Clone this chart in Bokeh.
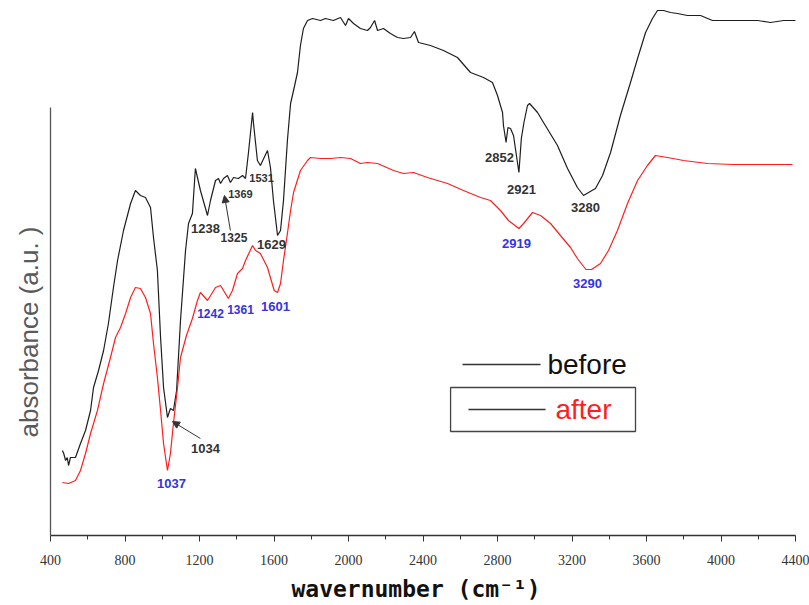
from bokeh.plotting import figure
from bokeh.models import Range1d, Arrow, NormalHead, FixedTicker, Title
from bokeh.core.properties import value
from bokeh.embed import file_html
from bokeh.resources import INLINE

# ---- data (wavenumber cm^-1, absorbance a.u.) ----
before_wn = [464, 471, 481, 490, 497, 507, 534, 561, 588, 615, 631, 658, 685, 711, 738, 760,
             792, 830, 856, 883, 910, 937, 953, 974, 991, 1007, 1028, 1044, 1060, 1077, 1098,
             1125, 1141, 1162, 1178, 1205, 1243, 1259, 1286, 1302, 1313, 1329, 1350, 1366,
             1383, 1409, 1431, 1447, 1463, 1485, 1490, 1511, 1527, 1565, 1581, 1597, 1619,
             1635, 1651, 1672, 1689, 1705, 1726, 1742, 1758, 1780, 1807, 1850, 1876, 1919,
             1957, 1984, 2000, 2027, 2064, 2102, 2118, 2140, 2156, 2188, 2225, 2263, 2295,
             2333, 2354, 2376, 2440, 2510, 2585, 2655, 2725, 2773, 2800, 2827, 2832, 2846,
             2856, 2870, 2886, 2915, 2928, 2942, 2961, 2972, 3015, 3047, 3122, 3176, 3229,
             3262, 3289, 3326, 3364, 3407, 3460, 3514, 3552, 3595, 3632, 3659, 3691, 3729,
             3766, 3820, 3890, 3954, 4051, 4196, 4266, 4336, 4454]
before_abs = [0.85, 0.82, 0.75, 0.78, 0.70, 0.78, 0.78, 0.92, 1.05, 1.25, 1.48, 1.65, 1.85,
              2.12, 2.48, 2.75, 3.05, 3.32, 3.45, 3.40, 3.38, 3.28, 2.98, 2.65, 1.98, 1.48,
              1.18, 1.27, 1.25, 1.45, 2.15, 2.85, 3.12, 3.22, 3.67, 3.45, 3.20, 3.35, 3.55,
              3.57, 3.52, 3.57, 3.60, 3.53, 3.58, 3.57, 3.60, 3.57, 3.83, 4.23, 4.12, 3.75,
              3.70, 3.85, 3.68, 3.35, 3.00, 3.05, 3.35, 3.95, 4.32, 4.45, 4.63, 4.90, 5.07,
              5.15, 5.17, 5.15, 5.17, 5.15, 5.18, 5.10, 5.17, 5.12, 5.07, 5.05, 5.08, 5.15,
              5.05, 5.07, 5.02, 4.98, 4.97, 4.98, 5.04, 4.93, 4.90, 4.85, 4.78, 4.63, 4.58,
              4.53, 4.40, 4.23, 4.10, 3.93, 4.08, 4.07, 4.00, 3.63, 3.97, 4.13, 4.30, 4.32,
              4.23, 4.13, 3.90, 3.67, 3.48, 3.40, 3.43, 3.47, 3.60, 3.83, 4.20, 4.53, 4.77,
              5.03, 5.17, 5.25, 5.25, 5.23, 5.22, 5.20, 5.20, 5.15, 5.15, 5.15, 5.13, 5.15,
              5.15]

after_wn = [464, 497, 534, 561, 588, 615, 652, 685, 722, 749, 776, 803, 830, 856, 883, 910,
            937, 953, 974, 991, 1007, 1028, 1044, 1060, 1082, 1098, 1130, 1162, 1189, 1205,
            1243, 1286, 1313, 1355, 1377, 1404, 1431, 1447, 1485, 1501, 1527, 1565, 1601,
            1619, 1635, 1651, 1672, 1689, 1705, 1742, 1780, 1796, 1850, 1904, 1957, 2011,
            2064, 2102, 2156, 2242, 2295, 2349, 2424, 2532, 2617, 2709, 2762, 2816, 2859,
            2915, 2940, 2988, 3031, 3085, 3138, 3192, 3229, 3275, 3305, 3353, 3396, 3444,
            3498, 3552, 3605, 3648, 3713, 3799, 3927, 4067, 4212, 4384]
after_abs = [0.53, 0.52, 0.55, 0.65, 0.82, 1.02, 1.25, 1.52, 1.78, 1.98, 2.08, 2.22, 2.38,
             2.48, 2.47, 2.38, 2.22, 1.92, 1.58, 1.25, 0.92, 0.65, 0.82, 1.12, 1.48, 1.78,
             2.00, 2.17, 2.35, 2.43, 2.35, 2.48, 2.50, 2.37, 2.45, 2.62, 2.67, 2.75, 2.90,
             2.85, 2.82, 2.68, 2.45, 2.43, 2.52, 2.75, 3.02, 3.25, 3.43, 3.65, 3.75, 3.78,
             3.77, 3.77, 3.78, 3.77, 3.72, 3.73, 3.72, 3.65, 3.62, 3.63, 3.58, 3.52, 3.45,
             3.38, 3.35, 3.25, 3.15, 3.07, 3.12, 3.23, 3.20, 3.12, 3.00, 2.88, 2.77, 2.66,
             2.66, 2.72, 2.85, 3.05, 3.32, 3.55, 3.70, 3.80, 3.78, 3.75, 3.72, 3.71, 3.71,
             3.71]

# peak annotations: text, label x (cm^-1), label y (a.u.), font size
before_peaks = ["1034", "1238", "1325", "1369", "1531", "1629", "2852", "2921", "3280"]
before_peak_x = [1232, 1232, 1385, 1420, 1533, 1587, 2811, 2929, 3272]
before_peak_y = [0.87, 3.07, 2.98, 3.42, 3.58, 2.91, 3.78, 3.46, 3.28]
before_peak_size = ["13px", "13px", "12px", "11px", "11px", "13px", "13px", "13px", "13px"]

after_peaks = ["1037", "1242", "1361", "1601", "2919", "3290"]
after_peak_x = [1050, 1259, 1420, 1608, 2902, 3283]
after_peak_y = [0.52, 2.22, 2.26, 2.29, 2.92, 2.52]
after_peak_size = ["13px", "12px", "12px", "13px", "13px", "13px"]

x_ticks = [400, 800, 1200, 1600, 2000, 2400, 2800, 3200, 3600, 4000, 4400]
x_minor = [600, 1000, 1400, 1800, 2200, 2600, 3000, 3400, 3800, 4200]

BLACK = "#1e1e1e"
RED = "#ff1e1e"
BLUE = "#3434e0"
GRAY = "#333333"

p = figure(width=809, height=605, x_range=Range1d(400, 4400), y_range=Range1d(0, 5.27),
           output_backend="svg", toolbar_location=None,
           min_border_left=50, min_border_right=14, min_border_top=8, min_border_bottom=70)
p.outline_line_color = None
p.grid.visible = False
p.background_fill_color = "white"
p.border_fill_color = "white"

p.line(before_wn, before_abs, line_color=BLACK, line_width=1.2)
p.line(after_wn, after_abs, line_color=RED, line_width=1.2)

p.text(before_peak_x, before_peak_y, text=before_peaks, text_font=value("Liberation Sans"),
       text_font_size=before_peak_size, text_font_style="bold", text_color=GRAY,
       text_align="center", text_baseline="middle")
p.text(after_peak_x, after_peak_y, text=after_peaks, text_font=value("Liberation Sans"),
       text_font_size=after_peak_size, text_font_style="bold", text_color=BLUE,
       text_align="center", text_baseline="middle")

p.add_layout(Arrow(end=NormalHead(size=7, fill_color=GRAY, line_color=GRAY),
                   x_start=1205, y_start=0.97, x_end=1055, y_end=1.14,
                   line_color=GRAY, line_width=1))
p.add_layout(Arrow(end=NormalHead(size=7, fill_color=GRAY, line_color=GRAY),
                   x_start=1366, y_start=3.05, x_end=1334, y_end=3.40,
                   line_color=GRAY, line_width=1))

# legend (drawn as in the reference: only the 'after' entry is boxed)
p.segment(x0=[2612, 2644], y0=[1.71, 1.26], x1=[3031, 3058], y1=[1.71, 1.26],
          line_color=GRAY, line_width=1.3)
p.text(x=[3068], y=[1.71], text=["before"], text_font=value("Liberation Sans"),
       text_font_size="28px", text_color="#111111", text_baseline="middle", text_align="left")
p.text(x=[3111], y=[1.26], text=["after"], text_font=value("Liberation Sans"),
       text_font_size="28px", text_color=RED, text_baseline="middle", text_align="left")
p.quad(left=[2548], right=[3541], bottom=[1.04], top=[1.48], fill_color=None,
       line_color="#444444", line_width=1.3)

# axes
xa = p.xaxis[0]
xa.ticker = FixedTicker(ticks=x_ticks, minor_ticks=x_minor)
xa.axis_line_color = GRAY
xa.axis_line_width = 1.3
xa.major_tick_line_color = GRAY
xa.minor_tick_line_color = GRAY
xa.major_tick_out = 6
xa.major_tick_in = 0
xa.minor_tick_out = 4
xa.minor_tick_in = 0
xa.major_label_standoff = 13
xa.major_label_text_font = "Liberation Sans Narrow"
xa.major_label_text_font_size = "14px"
xa.major_label_text_color = GRAY
xa.axis_label = "wavernumber  (cm\u207b\u00b9)"
xa.axis_label_text_font = "DejaVu Sans Mono"
xa.axis_label_text_font_size = "23px"
xa.axis_label_text_font_style = "bold"
xa.axis_label_text_color = "#111111"
xa.axis_label_standoff = 8

ya = p.yaxis[0]
ya.ticker = FixedTicker(ticks=[])
ya.bounds = (0, 4.28)
ya.axis_line_color = "#555555"
ya.axis_line_width = 1.3
ya.major_tick_in = 0
ya.major_tick_out = 0
ya.minor_tick_in = 0
ya.minor_tick_out = 0

# y-axis title, placed along the drawn part of the axis as in the reference
p.add_layout(Title(text="absorbance  (a.u. )", align="left", offset=98, standoff=13,
                   text_font="Liberation Sans", text_font_size="26px",
                   text_font_style="normal", text_color="#5a5a5a"), "left")

open("out.html", "w").write(file_html(p, INLINE))
